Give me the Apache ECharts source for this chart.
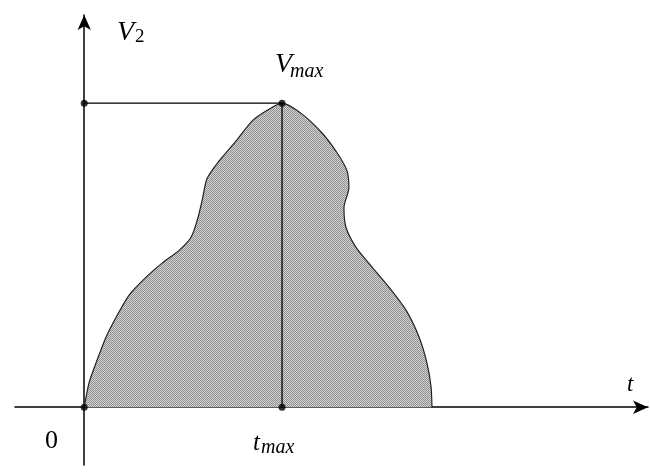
<!DOCTYPE html>
<html>
<head>
<meta charset="utf-8">
<script src="https://cdn.jsdelivr.net/npm/echarts@6/dist/echarts.min.js"></script>
<style>
  html, body { margin: 0; padding: 0; background: #fff; }
  #chart { width: 650px; height: 473px; }
</style>
</head>
<body>
<div id="chart"></div>
<script>
// pulse shape V2(t), tmax = 10, Vmax = 10 (arbitrary units)
const curveT = [0, 0.25, 0.66, 1.11, 1.62, 2.27, 3.13, 3.94, 4.80, 5.40, 5.71, 5.96, 6.21, 6.82, 7.68, 8.48, 9.19, 10,
                11.01, 12.02, 12.78, 13.28, 13.38, 13.13, 13.23, 13.74, 14.55, 15.40, 16.26, 16.92, 17.32, 17.53, 17.58]
const curveV = [0, 0.82, 1.57, 2.32, 2.97, 3.69, 4.28, 4.74, 5.16, 5.59, 6.14, 6.80, 7.52, 8.10, 8.76, 9.41, 9.74, 10,
                9.64, 9.02, 8.37, 7.78, 7.22, 6.57, 5.92, 5.26, 4.61, 3.95, 3.20, 2.32, 1.47, 0.69, 0]
const tMax = 10
const vMax = 10

const serif = "'Liberation Serif', 'DejaVu Serif', serif"

//dotted gray fill like the scan
function hatch() {
    const c = document.createElement('canvas')
    c.width = 2
    c.height = 2
    const ctx = c.getContext('2d')
    ctx.fillStyle = '#d4d4d4'
    ctx.fillRect(0, 0, 2, 2)
    ctx.fillStyle = '#8e8e8e'
    ctx.fillRect(0, 0, 1, 1)
    ctx.fillRect(1, 1, 1, 1)
    return c
}

const curve = curveT.map((t, i) => [t, curveV[i]])
const guide = [[0, vMax], [tMax, vMax], [tMax, 0]]
const dots = [[0, vMax], [tMax, vMax], [tMax, 0], [0, 0]]

const chart = echarts.init(document.getElementById('chart'))

const axisLine = {
    onZero: true,
    symbol: ['none', 'arrow'],
    symbolSize: [10, 15],
    lineStyle: { color: '#000', width: 1.5 }
}

chart.setOption({
    animation: false,
    grid: { left: 15, right: 2, top: 15, bottom: 8 },
    xAxis: {
        type: 'value', min: -3.5, max: 28.5,
        axisLine: axisLine,
        axisTick: { show: false }, axisLabel: { show: false }, splitLine: { show: false }
    },
    yAxis: {
        type: 'value', min: -1.9, max: 12.9,
        axisLine: axisLine,
        axisTick: { show: false }, axisLabel: { show: false }, splitLine: { show: false }
    },
    series: [
        {
            type: 'line',
            data: curve,
            smooth: 0.25,
            showSymbol: false,
            lineStyle: { color: '#222', width: 1.2 },
            areaStyle: { color: { image: hatch(), repeat: 'repeat' }, opacity: 1 },
            z: 2
        },
        {
            type: 'line',
            data: guide,
            showSymbol: false,
            lineStyle: { color: '#000', width: 1.3 },
            z: 3
        },
        {
            type: 'scatter',
            data: dots,
            symbolSize: 7,
            itemStyle: { color: '#000' },
            z: 4
        }
    ],
    graphic: [
        { type: 'text', left: 117, top: 19, style: { text: 'V', font: 'italic 28px ' + serif, fill: '#000' } },
        { type: 'text', left: 135, top: 28, style: { text: '2', font: '19px ' + serif, fill: '#000' } },
        { type: 'text', left: 275, top: 51, style: { text: 'V', font: 'italic 28px ' + serif, fill: '#000' } },
        { type: 'text', left: 290, top: 62, style: { text: 'max', font: 'italic 20px ' + serif, fill: '#000' } },
        { type: 'text', left: 627, top: 373, style: { text: 't', font: 'italic 23px ' + serif, fill: '#000' } },
        { type: 'text', left: 45, top: 428, style: { text: '0', font: '26px ' + serif, fill: '#000' } },
        { type: 'text', left: 253, top: 431, style: { text: 't', font: 'italic 25px ' + serif, fill: '#000' } },
        { type: 'text', left: 261, top: 438, style: { text: 'max', font: 'italic 20px ' + serif, fill: '#000' } }
    ]
})
</script>
</body>
</html>
